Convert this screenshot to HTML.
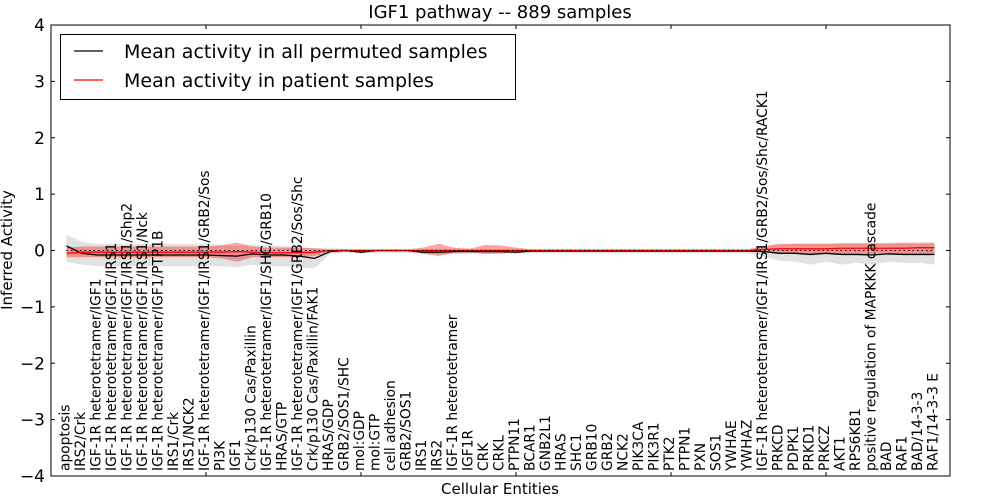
<!DOCTYPE html>
<html><head><meta charset="utf-8">
<style>
html,body{margin:0;padding:0;background:#fff;}
svg{display:block;font-family:"DejaVu Sans","Liberation Sans",sans-serif;}
</style></head>
<body>
<svg id="chart" width="1000" height="500" viewBox="0 0 1000 500">
<text x="500" y="18" text-anchor="middle" font-size="18">IGF1 pathway -- 889 samples</text>
<g id="plot"></g>
<text x="500" y="494" text-anchor="middle" font-size="15">Cellular Entities</text>
<text x="12" y="250" text-anchor="middle" font-size="15" transform="rotate(-90 12 250)">Inferred Activity</text>
<g>
<rect x="60.5" y="34.5" width="455" height="65" fill="#fff" stroke="#000" stroke-width="1"/>
<line x1="74" y1="51" x2="103" y2="51" stroke="#000" stroke-width="1.3"/>
<text x="124" y="58" font-size="19">Mean activity in all permuted samples</text>
<line x1="74" y1="80" x2="103" y2="80" stroke="#f00" stroke-width="1.3"/>
<text x="124" y="87" font-size="19">Mean activity in patient samples</text>
</g>
</svg>
<script>
const categories = ["apoptosis","IRS2/Crk","IGF-1R heterotetramer/IGF1","IGF-1R heterotetramer/IGF1/IRS1","IGF-1R heterotetramer/IGF1/IRS1/Shp2","IGF-1R heterotetramer/IGF1/IRS1/Nck","IGF-1R heterotetramer/IGF1/PTP1B","IRS1/Crk","IRS1/NCK2","IGF-1R heterotetramer/IGF1/IRS1/GRB2/Sos","PI3K","IGF1","Crk/p130 Cas/Paxillin","IGF-1R heterotetramer/IGF1/SHC/GRB10","HRAS/GTP","IGF-1R heterotetramer/IGF1/GRB2/Sos/Shc","Crk/p130 Cas/Paxillin/FAK1","HRAS/GDP","GRB2/SOS1/SHC","mol:GDP","mol:GTP","cell adhesion","GRB2/SOS1","IRS1","IRS2","IGF-1R heterotetramer","IGF1R","CRK","CRKL","PTPN11","BCAR1","GNB2L1","HRAS","SHC1","GRB10","GRB2","NCK2","PIK3CA","PIK3R1","PTK2","PTPN1","PXN","SOS1","YWHAE","YWHAZ","IGF-1R heterotetramer/IGF1/IRS1/GRB2/Sos/Shc/RACK1","PRKCD","PDPK1","PRKD1","PRKCZ","AKT1","RPS6KB1","positive regulation of MAPKKK cascade","BAD","RAF1","BAD/14-3-3","RAF1/14-3-3 E"];
const permMean = [0.08,-0.05,-0.08,-0.08,-0.08,-0.08,-0.08,-0.08,-0.08,-0.08,-0.09,-0.1,-0.06,-0.08,-0.08,-0.1,-0.14,-0.02,0,-0.03,0,0,0,-0.03,-0.03,-0.02,-0.02,-0.02,-0.02,-0.03,-0.01,-0.01,-0.01,-0.01,-0.01,-0.01,-0.01,-0.01,-0.01,-0.01,-0.01,-0.01,-0.01,-0.01,-0.01,-0.02,-0.05,-0.05,-0.07,-0.05,-0.07,-0.07,-0.08,-0.06,-0.07,-0.07,-0.07];
const permUpper = [0.28,0.15,0.12,0.12,0.12,0.12,0.12,0.12,0.12,0.12,0.1,0.08,0.1,0.08,0.08,0.06,0.04,0.04,0.03,0.02,0.02,0.02,0.02,0.03,0.03,0.03,0.03,0.03,0.03,0.03,0.03,0.03,0.03,0.03,0.03,0.03,0.03,0.03,0.03,0.03,0.03,0.03,0.03,0.03,0.03,0.08,0.1,0.12,0.12,0.12,0.12,0.12,0.12,0.12,0.12,0.12,0.12];
const permLower = [-0.2,-0.25,-0.28,-0.28,-0.28,-0.28,-0.28,-0.28,-0.28,-0.28,-0.28,-0.3,-0.25,-0.28,-0.28,-0.3,-0.32,-0.06,-0.04,-0.06,-0.04,-0.04,-0.04,-0.07,-0.07,-0.06,-0.06,-0.06,-0.06,-0.06,-0.05,-0.05,-0.05,-0.05,-0.05,-0.05,-0.05,-0.05,-0.05,-0.05,-0.05,-0.05,-0.05,-0.05,-0.05,-0.1,-0.18,-0.2,-0.25,-0.2,-0.25,-0.22,-0.25,-0.2,-0.22,-0.22,-0.25];
const patientMean = [-0.05,-0.03,-0.03,-0.03,-0.03,-0.03,-0.03,-0.03,-0.03,-0.03,-0.03,-0.02,-0.03,-0.04,-0.04,-0.04,-0.03,0,0,0,0,0,0,0,0,0,0,0,0,0,0,0,0,0,0,0,0,0,0,0,0,0,0,0,0,0.02,0.03,0.03,0.03,0.03,0.04,0.04,0.04,0.04,0.04,0.05,0.05];
const patientUpper = [0.05,0.07,0.07,0.07,0.07,0.07,0.07,0.07,0.07,0.07,0.09,0.14,0.07,0.05,0.05,0.05,0.04,0.02,0.02,0.02,0.02,0.02,0.02,0.05,0.12,0.05,0.03,0.1,0.09,0.05,0.02,0.02,0.02,0.02,0.02,0.02,0.02,0.02,0.02,0.02,0.02,0.02,0.02,0.02,0.02,0.08,0.12,0.12,0.12,0.12,0.13,0.13,0.13,0.13,0.14,0.14,0.14];
const patientLower = [-0.12,-0.12,-0.12,-0.12,-0.12,-0.12,-0.12,-0.12,-0.12,-0.12,-0.14,-0.2,-0.12,-0.12,-0.12,-0.12,-0.1,-0.02,-0.02,-0.02,-0.02,-0.02,-0.02,-0.05,-0.1,-0.04,-0.02,-0.06,-0.05,-0.03,-0.02,-0.02,-0.02,-0.02,-0.02,-0.02,-0.02,-0.02,-0.02,-0.02,-0.02,-0.02,-0.02,-0.02,-0.02,-0.03,-0.06,-0.06,-0.06,-0.06,-0.06,-0.06,-0.06,-0.06,-0.06,-0.06,-0.06];
const yTicks = [-4,-3,-2,-1,0,1,2,3,4];
const yTickLabels = ["\u22124","\u22123","\u22122","\u22121","0","1","2","3","4"];
const xTicks = [0,10,20,30,40,50];

const L=51, R=950, T=25, B=476, XMIN=0, XMAX=58, YMIN=-4, YMAX=4;
const sx = v => L + (v - XMIN) / (XMAX - XMIN) * (R - L);
const sy = v => B - (v - YMIN) / (YMAX - YMIN) * (B - T);
const NS='http://www.w3.org/2000/svg';
const plot=document.getElementById('plot');
function mk(tag, attrs){const e=document.createElementNS(NS,tag);for(const k in attrs)e.setAttribute(k,attrs[k]);return e;}
function band(up, lo, fill, op, name){
  let d='';
  up.forEach((v,i)=>{d+=(i?'L':'M')+sx(i+1)+','+sy(v);});
  for(let i=lo.length-1;i>=0;i--)d+='L'+sx(i+1)+','+sy(lo[i]);
  const p=mk('path',{d:d+'Z',fill:fill,'fill-opacity':op,stroke:'none'});
  
  
  plot.appendChild(p);
}
function line(vals, color, name, dash){
  const pts=vals.map((v,i)=>sx(i+1)+','+sy(v)).join(' ');
  const a={points:pts,fill:'none',stroke:color,'stroke-width':1.3};
  if(dash)a['stroke-dasharray']=dash;
  const p=mk('polyline',a);
  
  
  plot.appendChild(p);
}
band(permUpper, permLower, '#c8c8c8', 0.55, 'permuted-band');
band(patientUpper, patientLower, '#ff0000', 0.35, 'patient-band');
line(permMean, '#000', 'permuted-mean-line');
line(patientMean, '#f00', 'patient-mean-line');
const zl=mk('line',{x1:sx(1),x2:sx(57),y1:sy(0),y2:sy(0),stroke:'#000','stroke-width':1,'stroke-dasharray':'1.5,3'});


plot.appendChild(zl);
const frame=mk('rect',{x:L,y:T,width:R-L,height:B-T,fill:'none',stroke:'#000','stroke-width':1});


plot.appendChild(frame);
yTicks.forEach((v,i)=>{
  const y=sy(v);
  plot.appendChild(mk('line',{x1:L,x2:L+4,y1:y,y2:y,stroke:'#000'}));
  plot.appendChild(mk('line',{x1:R-4,x2:R,y1:y,y2:y,stroke:'#000'}));
  const t=mk('text',{x:L-6,y:y+6,'text-anchor':'end','font-size':17});
  t.textContent=yTickLabels[i];
  
  
  plot.appendChild(t);
});
xTicks.forEach(v=>{
  const x=sx(v);
  plot.appendChild(mk('line',{x1:x,x2:x,y1:T,y2:T+4,stroke:'#000'}));
  plot.appendChild(mk('line',{x1:x,x2:x,y1:B-4,y2:B,stroke:'#000'}));
});
categories.forEach((c,i)=>{
  const x=sx(i+1)+3, y=471;
  const t=mk('text',{x:x,y:y,'font-size':13.8,transform:'rotate(-90 '+x+' '+y+')'});
  t.textContent=c;
  
  
  plot.appendChild(t);
});
</script>
</body></html>
